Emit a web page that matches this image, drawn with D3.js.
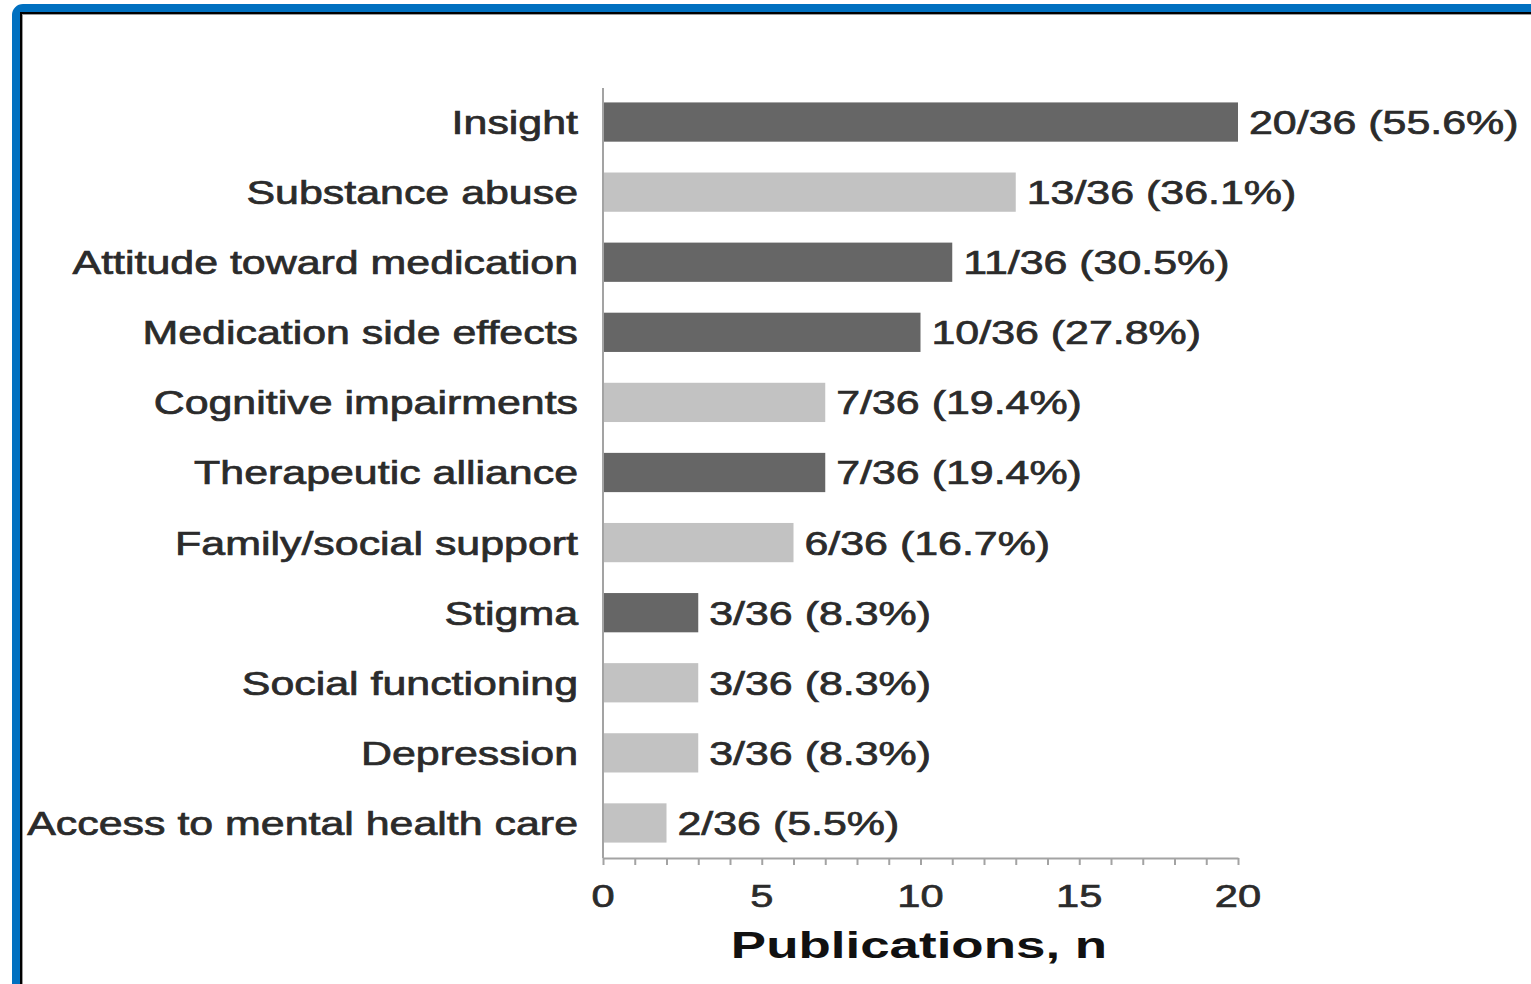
<!DOCTYPE html>
<html>
<head>
<meta charset="utf-8">
<script src="https://cdn.jsdelivr.net/npm/d3@7"></script>
<style>
  html, body { margin: 0; padding: 0; background: #ffffff; }
  svg { display: block; }
  text { font-family: "Liberation Sans", Arial, Helvetica, sans-serif; }
</style>
</head>
<body>
<svg id="chart" width="1531" height="984"></svg>
<script>
// ---- data ----
const categories = [
  "Insight",
  "Substance abuse",
  "Attitude toward medication",
  "Medication side effects",
  "Cognitive impairments",
  "Therapeutic alliance",
  "Family/social support",
  "Stigma",
  "Social functioning",
  "Depression",
  "Access to mental health care"
];
const counts = [20, 13, 11, 10, 7, 7, 6, 3, 3, 3, 2];
const total = 36;
const percentLabels = ["55.6%", "36.1%", "30.5%", "27.8%", "19.4%", "19.4%", "16.7%", "8.3%", "8.3%", "8.3%", "5.5%"];
const groups = ["dark", "light", "dark", "dark", "light", "dark", "light", "dark", "light", "light", "light"];
const xTicks = [0, 5, 10, 15, 20];
const xTitle = "Publications, n";

// ---- layout ----
const svg = d3.select("#chart");
const W = 1531, H = 984;
const plot = { left: 603, right: 1238, top: 87, bottom: 858 };
const SX = 1.3; // horizontal stretch of the original picture

// frame
svg.append("rect").attr("x", 16).attr("y", 8).attr("width", W + 40).attr("height", H + 40)
  .attr("rx", 7).attr("fill", "none").attr("stroke", "#0070c0").attr("stroke-width", 8);
svg.append("rect").attr("x", 21).attr("y", 13).attr("width", W + 40).attr("height", H + 40)
  .attr("fill", "none").attr("stroke", "#000000").attr("stroke-width", 2);
svg.append("rect").attr("x", 22.5).attr("y", 14.5).attr("width", W + 40).attr("height", H + 40)
  .attr("fill", "none").attr("stroke", "#9a9a9a").attr("stroke-width", 1);

const x = d3.scaleLinear().domain([0, 20]).range([plot.left, plot.right]);
const y = d3.scaleBand().domain(categories).range([plot.top, plot.bottom])
  .paddingInner(0.44).paddingOuter(0.22);
const color = d3.scaleOrdinal().domain(["dark", "light"]).range(["#666666", "#c2c2c2"]);

const rows = categories.map((c, i) => ({ cat: c, n: counts[i], pct: percentLabels[i], g: groups[i] }));

// bars
svg.append("g").selectAll("rect").data(rows).join("rect")
  .attr("x", x(0))
  .attr("y", d => y(d.cat))
  .attr("width", d => x(d.n) - x(0))
  .attr("height", y.bandwidth())
  .attr("fill", d => color(d.g));

// x axis
const xAxis = d3.axisBottom(x)
  .tickValues(d3.range(0, 21))
  .tickSize(7)
  .tickSizeOuter(0)
  .tickFormat("");
const gx = svg.append("g").attr("transform", `translate(0,${plot.bottom})`).call(xAxis);
gx.select(".domain").attr("stroke", "#a3a3a3").attr("stroke-width", 2);
gx.selectAll(".tick line").attr("stroke", "#a3a3a3").attr("stroke-width", 2);

// y axis line
const gy = svg.append("g").attr("transform", `translate(${plot.left},0)`)
  .call(d3.axisLeft(y).tickSize(0).tickFormat(""));
gy.select(".domain").attr("stroke", "#a3a3a3").attr("stroke-width", 2)
  .attr("d", `M0,${plot.top + 1}V${plot.bottom}`);

// helper: horizontal stretch of text around its anchor point
function stretch(sel, sx) {
  sel.each(function () {
    const t = d3.select(this);
    const tx = +t.attr("x"), ty = +t.attr("y");
    t.attr("transform", `translate(${tx},${ty}) scale(${sx},1) translate(${-tx},${-ty})`);
  });
}

const txt = "#2b2b2b";

// tick labels
svg.append("g").selectAll("text").data(xTicks).join("text")
  .attr("x", d => x(d))
  .attr("y", 907)
  .attr("text-anchor", "middle")
  .attr("font-size", 32)
  .attr("fill", txt).attr("stroke", txt).attr("stroke-width", 0.7)
  .text(d => d)
  .call(stretch, SX);

// category labels
svg.append("g").selectAll("text").data(rows).join("text")
  .attr("x", plot.left - 25)
  .attr("y", d => y(d.cat) + y.bandwidth() / 2 + 12)
  .attr("text-anchor", "end")
  .attr("font-size", 33)
  .attr("fill", txt).attr("stroke", txt).attr("stroke-width", 0.7)
  .text(d => d.cat)
  .call(stretch, SX);

// value labels
svg.append("g").selectAll("text").data(rows).join("text")
  .attr("x", d => x(d.n) + 11)
  .attr("y", d => y(d.cat) + y.bandwidth() / 2 + 12)
  .attr("text-anchor", "start")
  .attr("font-size", 33)
  .attr("fill", txt).attr("stroke", txt).attr("stroke-width", 0.7)
  .text(d => `${d.n}/${total} (${d.pct})`)
  .call(stretch, SX);

// axis title
svg.append("text")
  .attr("x", 919)
  .attr("y", 958)
  .attr("text-anchor", "middle")
  .attr("font-size", 36)
  .attr("font-weight", "bold")
  .attr("fill", "#111111")
  .text(xTitle)
  .call(stretch, 1.47);
</script>
</body>
</html>
